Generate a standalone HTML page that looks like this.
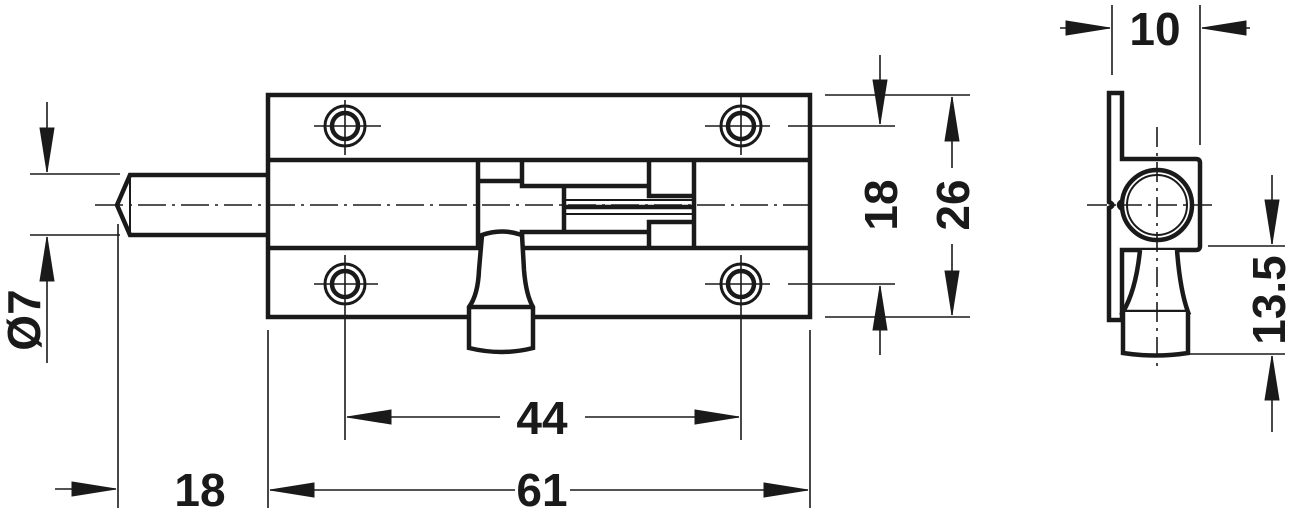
<!DOCTYPE html>
<html><head><meta charset="utf-8"><style>
html,body{margin:0;padding:0;background:#fff}
svg{display:block}
text{font-family:"Liberation Sans",sans-serif;font-weight:bold;font-size:46px;fill:#1a1a1a}
</style></head><body>
<svg width="1292" height="508" viewBox="0 0 1292 508" xmlns="http://www.w3.org/2000/svg">
<defs>
<path id="ar" d="M0,0 L-44,-7 L-44,7 Z" fill="#1a1a1a"/>
</defs>
<g stroke="#1a1a1a" fill="none">
<g stroke-width="4.5">
<rect x="268" y="95" width="542" height="222" fill="#fff"/>
<line x1="268" y1="160" x2="810" y2="160"/>
<line x1="268" y1="248" x2="810" y2="248"/>
<path d="M267,175 L130,175 L117,205 L130,235 L267,235"/>
<line x1="130" y1="175" x2="130" y2="235" stroke-width="2"/>
<line x1="478" y1="160" x2="478" y2="248"/>
<line x1="694" y1="160" x2="694" y2="248"/>
<path d="M478,181 L522,181 M522,160 L522,186 L649,186 L649,160 M649,186 L649,196 L694,196"/>
<path d="M564,186 L564,233 M522,248 L522,232 L649,232 L649,248 M649,232 L649,222 L694,222"/>
<line x1="564" y1="207" x2="694" y2="207"/>
<line x1="564" y1="200" x2="694" y2="200" stroke-width="2"/>
<line x1="564" y1="214" x2="694" y2="214" stroke-width="2"/>
<path d="M482,235 Q502,228 522,235 L524,270 Q526,295 533,307 L533,348 Q502,356 469,348 L469,307 Q478,295 479,270 Z" fill="#fff"/>
<line x1="469" y1="307" x2="533" y2="307"/>
</g>
<g stroke-width="3">
<circle cx="345" cy="126" r="20"/><circle cx="345" cy="126" r="13" stroke-width="4.5"/>
<circle cx="741" cy="126" r="20"/><circle cx="741" cy="126" r="13" stroke-width="4.5"/>
<circle cx="345" cy="284" r="20"/><circle cx="345" cy="284" r="13" stroke-width="4.5"/>
<circle cx="741" cy="284" r="20"/><circle cx="741" cy="284" r="13" stroke-width="4.5"/>
</g>
<g stroke-width="1.6">
<path d="M314,126 L381,126 M345,100 L345,155 M314,284 L378,284 M345,255 L345,440"/>
<path d="M705,126 L770,126 M741,95 L741,155 M705,284 L770,284 M741,255 L741,440"/>
<path d="M788,126 L895,126 M788,284 L895,284"/>
<line x1="95" y1="205" x2="810" y2="205" stroke-dasharray="28,6,3,6"/>
<path d="M30,174 L120,174 M30,235 L120,235 M47,102 L47,172 M47,237 L47,363"/>
<path d="M118,224 L118,508 M268,330 L268,508 M810,330 L810,508"/>
<path d="M55,489 L116,489"/>
<path d="M270,490 L515,490 M570,490 L808,490"/>
<path d="M347,417 L500,417 M585,417 L739,417"/>
<path d="M825,95 L970,95 M825,317 L970,317"/>
<path d="M880,55 L880,124 M880,286 L880,355"/>
<path d="M952,97 L952,168 M952,244 L952,315"/>
<path d="M1112,5 L1112,75 M1200,5 L1200,145 M1060,28 L1110,28 M1202,28 L1250,28"/>
<path d="M1208,246 L1285,246 M1185,354 L1285,354 M1272,175 L1272,244 M1272,356 L1272,432"/>
</g>
<use href="#ar" transform="translate(47,172) rotate(90)"/>
<use href="#ar" transform="translate(47,237) rotate(-90)"/>
<use href="#ar" transform="translate(116,489)"/>
<use href="#ar" transform="translate(270,490) rotate(180)"/>
<use href="#ar" transform="translate(808,490)"/>
<use href="#ar" transform="translate(347,417) rotate(180)"/>
<use href="#ar" transform="translate(739,417)"/>
<use href="#ar" transform="translate(880,124) rotate(90)"/>
<use href="#ar" transform="translate(880,286) rotate(-90)"/>
<use href="#ar" transform="translate(952,97) rotate(-90)"/>
<use href="#ar" transform="translate(952,315) rotate(90)"/>
<use href="#ar" transform="translate(1110,28)"/>
<use href="#ar" transform="translate(1202,28) rotate(180)"/>
<use href="#ar" transform="translate(1272,244) rotate(90)"/>
<use href="#ar" transform="translate(1272,356) rotate(-90)"/>
<g stroke-width="4.5">
<path d="M1109,93 L1122,93 L1122,159 L1196,159 Q1200,159 1200,163 L1200,246 Q1200,250 1196,250 L1122,250 L1122,320 L1109,320 L1109,208 Q1116,205 1109,202 Z" fill="#fff"/>
<path d="M1122,201 Q1116,205 1122,209" />
<circle cx="1157" cy="205" r="35" fill="#fff"/>
<circle cx="1157" cy="205" r="30" stroke-width="2"/>
<path d="M1140,250 Q1136,290 1123,312 L1188,312 Q1180,290 1177,250" fill="#fff"/>
<path d="M1123,312 L1123,353 Q1155,358 1188,353 L1188,312" fill="#fff"/>
</g>
<path d="M1087,205 L1216,205 M1157,127 L1157,370" stroke="#1a1a1a" stroke-width="1.6" stroke-dasharray="20,6,3,6"/>
</g>
<text x="200" y="506" text-anchor="middle">18</text>
<text x="542" y="506" text-anchor="middle">61</text>
<text x="542" y="434" text-anchor="middle">44</text>
<text x="1155" y="45" text-anchor="middle">10</text>
<text transform="translate(897,205) rotate(-90)" text-anchor="middle">18</text>
<text transform="translate(969,205) rotate(-90)" text-anchor="middle">26</text>
<text transform="translate(40,320) rotate(-90)" text-anchor="middle">Ø7</text>
<text transform="translate(1285,300) rotate(-90)" text-anchor="middle">13.5</text>
</svg>
</body></html>
